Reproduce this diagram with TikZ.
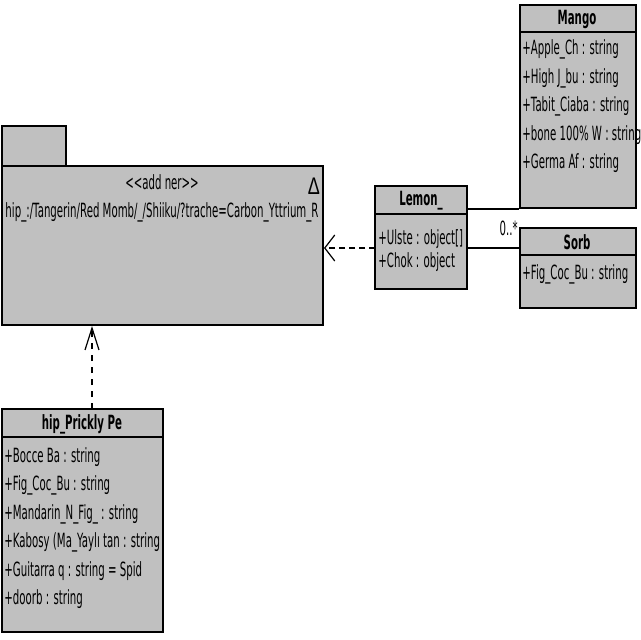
\documentclass[tikz,border=0pt]{standalone}
\usepackage{fontspec}
\setmainfont{DejaVu Sans}[FakeStretch=0.52]
\newfontfamily\deltafont{Liberation Sans}[FakeStretch=0.75]
\usetikzlibrary{arrows.meta,calc,fit,positioning}
\definecolor{boxgray}{RGB}{192,192,192}
\tikzset {
  >=Stealth,
  every node/.style={font=\fontsize{9.8}{11}\selectfont},
  classbox/.style={draw,fill=boxgray,line width=1pt,inner sep=0pt},
  ctitle/.style={font=\fontsize{9.8}{11}\selectfont\bfseries,inner sep=0pt},
  attr/.style={anchor=west,inner sep=0pt},
  depend/.style={densely dashed,line width=0.8pt},
}

\begin{document}
\begin{tikzpicture}[x=0.5pt,y=-0.5pt]
      \useasboundingbox (0,0) rectangle (640,640);

      % package
      \node[classbox,line width=0.7pt,fit={(2,126) (66,166)}] (pkgtab) {};
      \node[classbox,fit={(2,166) (323,325)}] (pkg) {};
      \node at (162,182) (pkgstereo) {<{}<add ner>{}>};
      \node at (162,212) (pkgpath)
      {hip\_:/Tangerin/Red Momb/\_/Shiiku/?trache=Carbon\_Yttrium\_R};
      \node[font=\deltafont\fontsize{12}{12}\selectfont,inner sep=0pt] at (314,186) (pkgdelta) {Δ};

      % Mango
      \node[classbox,fit={(520,5) (636,208)}] (mango) {};
      \draw[line width=1pt] ($(mango.north west)+(0,28)$) -- ($(mango.north east)+(0,28)$);
      \node[ctitle] at (577,19) (mangoT) {Mango};
      \node[attr] at (522,49.5) (mangoA) {+Apple\_Ch : string};
      \node[attr] at (522,78) (mangoB) {+High J\_bu : string};
      \node[attr] at (522,106.5) (mangoC) {+Tabit\_Ciaba : string};
      \node[attr] at (522,135) (mangoD) {+bone 100\% W : string};
      \node[attr] at (522,163.5) (mangoE) {+Germa Af : string};

      % Sorb
      \node[classbox,fit={(520,228) (636,308)}] (sorb) {};
      \draw[line width=1pt] ($(sorb.north west)+(0,28)$) -- ($(sorb.north east)+(0,28)$);
      \node[ctitle] at (577,242) (sorbT) {Sorb};
      \node[attr] at (522,274) (sorbA) {+Fig\_Coc\_Bu : string};

      % Lemon_
      \node[classbox,fit={(375,186) (467,289)}] (lemon) {};
      \draw[line width=1pt] ($(lemon.north west)+(0,29)$) -- ($(lemon.north east)+(0,29)$);
      \node[ctitle] at (421,201) (lemonT) {Lemon\_};
      \node[attr] at (378,239) (lemonA) {+Ulste : object[]};
      \node[attr] at (378,262) (lemonB) {+Chok : object};

      % hip_Prickly Pe
      \node[classbox,fit={(2,409) (163,632)}] (hip) {};
      \draw[line width=1pt] ($(hip.north west)+(0,29)$) -- ($(hip.north east)+(0,29)$);
      \node[ctitle] at (82,424) (hipT) {hip\_Prickly Pe};
      \node[attr] at (4,457) (hipA) {+Bocce Ba : string};
      \node[attr] at (4,485.5) (hipB) {+Fig\_Coc\_Bu : string};
      \node[attr] at (4,514) (hipC) {+Mandarin\_N\_Fig\_ : string};
      \node[attr] at (4,542.5) (hipD) {+Kabosy (Ma\_Yaylı tan : string};
      \node[attr] at (4,571) (hipE) {+Guitarra q : string = Spid};
      \node[attr] at (4,599.5) (hipF) {+doorb : string};

      % connectors
      \coordinate (lemonMid) at (375,248);
      \coordinate (hipTop) at (92,409);
      \draw[line width=1pt] (lemon.east |- mango.south) -- (mango.south west);
      \draw[line width=1pt] (lemon.east |- lemonMid) -- (lemonMid -| sorb.west);
      \node[anchor=south east,inner sep=1pt] at (520,238) (sorbMult) {0..*};
      \draw[depend,-{Straight Barb[length=5pt,width=13pt,line width=0.6pt]}]
      (lemonMid) -- (lemonMid -| pkg.east);
      \draw[depend,dashed,-{Straight Barb[length=11pt,width=7pt,line width=0.6pt]}]
      (hipTop) -- (hipTop |- pkg.south);
    \end{tikzpicture}
\end{document}
